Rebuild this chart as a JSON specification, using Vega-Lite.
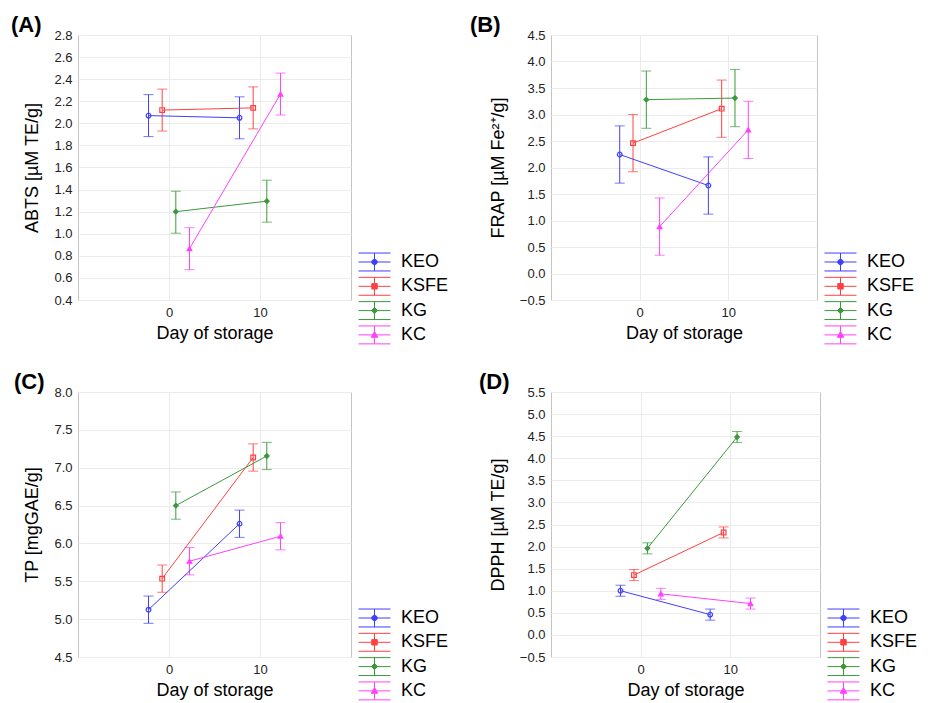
{
  "$schema": "https://vega.github.io/schema/vega-lite/v6.json",
  "background": "white",
  "padding": {"left": 10, "top": 13, "right": 0, "bottom": 0},
  "bounds": "flush",
  "columns": 2,
  "spacing": {"column": 200, "row": 92},
  "resolve": {"scale": {"color": "independent"}, "legend": {"color": "independent"}},
  "config": {
    "font": "Liberation Sans",
    "view": {"stroke": "#c4c4c4", "strokeWidth": 1},
    "axis": {"grid": true, "gridColor": "#ebebeb", "domain": false, "ticks": false, "labelFontSize": 13, "labelColor": "#222", "titleFontSize": 18, "titleFontWeight": "normal", "titleColor": "#000", "labelPadding": 6, "labelFont": "Liberation Sans", "titleFont": "Liberation Sans", "labelOverlap": false},
    "axisY": {"titlePadding": 12},
    "axisX": {"titlePadding": 5},
    "title": {"fontSize": 22, "fontWeight": "bold", "anchor": "start", "frame": "group", "color": "#000", "font": "Liberation Sans", "offset": -8},
    "legend": {"orient": "none", "title": null, "padding": 0, "labelFontSize": 18, "labelFont": "Liberation Sans", "labelColor": "#000", "labelOffset": 10, "symbolSize": 1024}
  },
  "datasets": {
    "abts": [
      {"series": "KEO", "day": 0, "x": -2.25, "y": 2.07, "lo": 1.88, "hi": 2.26},
      {"series": "KEO", "day": 10, "x": 7.75, "y": 2.05, "lo": 1.86, "hi": 2.24},
      {"series": "KSFE", "day": 0, "x": -0.75, "y": 2.12, "lo": 1.93, "hi": 2.31},
      {"series": "KSFE", "day": 10, "x": 9.25, "y": 2.14, "lo": 1.95, "hi": 2.33},
      {"series": "KG", "day": 0, "x": 0.75, "y": 1.2, "lo": 1.005, "hi": 1.385},
      {"series": "KG", "day": 10, "x": 10.75, "y": 1.295, "lo": 1.105, "hi": 1.485},
      {"series": "KC", "day": 0, "x": 2.25, "y": 0.865, "lo": 0.675, "hi": 1.055},
      {"series": "KC", "day": 10, "x": 12.25, "y": 2.265, "lo": 2.075, "hi": 2.455}
    ],
    "frap": [
      {"series": "KEO", "day": 0, "x": -2.25, "y": 2.245, "lo": 1.705, "hi": 2.785},
      {"series": "KEO", "day": 10, "x": 7.75, "y": 1.66, "lo": 1.12, "hi": 2.2},
      {"series": "KSFE", "day": 0, "x": -0.75, "y": 2.46, "lo": 1.92, "hi": 3.0},
      {"series": "KSFE", "day": 10, "x": 9.25, "y": 3.11, "lo": 2.57, "hi": 3.65},
      {"series": "KG", "day": 0, "x": 0.75, "y": 3.28, "lo": 2.74, "hi": 3.82},
      {"series": "KG", "day": 10, "x": 10.75, "y": 3.31, "lo": 2.77, "hi": 3.85},
      {"series": "KC", "day": 0, "x": 2.25, "y": 0.885, "lo": 0.345, "hi": 1.425},
      {"series": "KC", "day": 10, "x": 12.25, "y": 2.71, "lo": 2.17, "hi": 3.25}
    ],
    "tp": [
      {"series": "KEO", "day": 0, "x": -2.25, "y": 5.125, "lo": 4.945, "hi": 5.305},
      {"series": "KEO", "day": 10, "x": 7.75, "y": 6.26, "lo": 6.08, "hi": 6.44},
      {"series": "KSFE", "day": 0, "x": -0.75, "y": 5.535, "lo": 5.355, "hi": 5.715},
      {"series": "KSFE", "day": 10, "x": 9.25, "y": 7.135, "lo": 6.955, "hi": 7.315},
      {"series": "KG", "day": 0, "x": 0.75, "y": 6.5, "lo": 6.32, "hi": 6.68},
      {"series": "KG", "day": 10, "x": 10.75, "y": 7.155, "lo": 6.975, "hi": 7.335},
      {"series": "KC", "day": 0, "x": 2.25, "y": 5.765, "lo": 5.585, "hi": 5.945},
      {"series": "KC", "day": 10, "x": 12.25, "y": 6.095, "lo": 5.915, "hi": 6.275}
    ],
    "dpph": [
      {"series": "KEO", "day": 0, "x": -2.25, "y": 1.0, "lo": 0.875, "hi": 1.125},
      {"series": "KEO", "day": 10, "x": 7.75, "y": 0.46, "lo": 0.335, "hi": 0.585},
      {"series": "KSFE", "day": 0, "x": -0.75, "y": 1.355, "lo": 1.23, "hi": 1.48},
      {"series": "KSFE", "day": 10, "x": 9.25, "y": 2.32, "lo": 2.195, "hi": 2.445},
      {"series": "KG", "day": 0, "x": 0.75, "y": 1.96, "lo": 1.835, "hi": 2.085},
      {"series": "KG", "day": 10, "x": 10.75, "y": 4.48, "lo": 4.355, "hi": 4.605},
      {"series": "KC", "day": 0, "x": 2.25, "y": 0.93, "lo": 0.805, "hi": 1.055},
      {"series": "KC", "day": 10, "x": 12.25, "y": 0.71, "lo": 0.585, "hi": 0.835}
    ]
  },
  "concat": [
    {
      "title": {"text": "(A)", "dx": -67},
      "width": 273, "height": 265,
      "data": {"name": "abts"},
      "encoding": {
        "x": {"field": "x", "type": "quantitative", "scale": {"domain": [-10, 20], "nice": false}, "axis": {"values": [0, 10], "title": "Day of storage"}},
        "color": {"field": "series", "type": "nominal", "scale": {"domain": ["KEO", "KSFE", "KG", "KC"], "range": ["#3f3fff", "#ff4040", "#3a9a3a", "#ff40ff"]},
          "legend": {"legendX": 280, "legendY": 215, "clipHeight": 24, "rowPadding": 0.3, "encode": {"symbols": {"update": {
            "shape": {"signal": "datum.value === 'KEO' ? 'M-1,0H1M0,-0.56V0.56M-1,-0.56H1M-1,0.56H1M-0.17,0A0.17,0.17 0 1,0 0.17,0A0.17,0.17 0 1,0 -0.17,0Z' : datum.value === 'KSFE' ? 'M-1,0H1M0,-0.56V0.56M-1,-0.56H1M-1,0.56H1M-0.17,-0.17H0.17V0.17H-0.17Z' : datum.value === 'KG' ? 'M-1,0H1M0,-0.56V0.56M-1,-0.56H1M-1,0.56H1M0,-0.19L0.19,0L0,0.19L-0.19,0Z' : 'M-1,0H1M0,-0.56V0.56M-1,-0.56H1M-1,0.56H1M0,-0.21L0.2,0.15H-0.2Z'"},
            "stroke": {"signal": "datum.value === 'KEO' ? '#3f3fff' : datum.value === 'KSFE' ? '#ff4040' : datum.value === 'KG' ? '#3a9a3a' : '#ff40ff'"},
            "fill": {"signal": "datum.value === 'KG' ? '#3a9a3a' : datum.value === 'KC' ? '#ff40ff' : 'transparent'"},
            "size": {"value": 1024}, "strokeWidth": {"value": 1}, "opacity": {"value": 1}}}}}}
      },
      "layer": [
        {"mark": {"type": "rule", "strokeWidth": 1}, "encoding": {"y": {"field": "lo", "type": "quantitative", "scale": {"domain": [0.4, 2.8], "nice": false, "zero": false}, "axis": {"values": [0.4, 0.6, 0.8, 1.0, 1.2, 1.4, 1.6, 1.8, 2.0, 2.2, 2.4, 2.6, 2.8], "format": ".1f", "title": "ABTS [µM TE/g]"}}, "y2": {"field": "hi"}}},
        {"mark": {"type": "tick", "orient": "horizontal", "size": 10, "thickness": 1}, "encoding": {"y": {"field": "lo", "type": "quantitative", "axis": {"values": [0.4, 0.6, 0.8, 1.0, 1.2, 1.4, 1.6, 1.8, 2.0, 2.2, 2.4, 2.6, 2.8], "format": ".1f", "title": "ABTS [µM TE/g]"}}}},
        {"mark": {"type": "tick", "orient": "horizontal", "size": 10, "thickness": 1}, "encoding": {"y": {"field": "hi", "type": "quantitative", "axis": {"values": [0.4, 0.6, 0.8, 1.0, 1.2, 1.4, 1.6, 1.8, 2.0, 2.2, 2.4, 2.6, 2.8], "format": ".1f", "title": "ABTS [µM TE/g]"}}}},
        {"mark": {"type": "line", "strokeWidth": 1}, "encoding": {"y": {"field": "y", "type": "quantitative", "axis": {"values": [0.4, 0.6, 0.8, 1.0, 1.2, 1.4, 1.6, 1.8, 2.0, 2.2, 2.4, 2.6, 2.8], "format": ".1f", "title": "ABTS [µM TE/g]"}}}},
        {"mark": {"type": "point", "size": 22, "strokeWidth": 1.2, "opacity": 1}, "encoding": {"y": {"field": "y", "type": "quantitative", "axis": {"values": [0.4, 0.6, 0.8, 1.0, 1.2, 1.4, 1.6, 1.8, 2.0, 2.2, 2.4, 2.6, 2.8], "format": ".1f", "title": "ABTS [µM TE/g]"}},
          "shape": {"field": "series", "type": "nominal", "scale": {"domain": ["KEO", "KSFE", "KG", "KC"], "range": ["circle", "square", "diamond", "triangle-up"]}, "legend": null},
          "fill": {"field": "series", "type": "nominal", "scale": {"domain": ["KEO", "KSFE", "KG", "KC"], "range": ["transparent", "transparent", "#3a9a3a", "#ff40ff"]}, "legend": null}}}
      ]
    },
    {
      "title": {"text": "(B)", "dx": -81},
      "width": 266, "height": 265,
      "data": {"name": "frap"},
      "encoding": {
        "x": {"field": "x", "type": "quantitative", "scale": {"domain": [-10, 20], "nice": false}, "axis": {"values": [0, 10], "title": "Day of storage"}},
        "color": {"field": "series", "type": "nominal", "scale": {"domain": ["KEO", "KSFE", "KG", "KC"], "range": ["#3f3fff", "#ff4040", "#3a9a3a", "#ff40ff"]},
          "legend": {"legendX": 273, "legendY": 215, "clipHeight": 24, "rowPadding": 0.3, "encode": {"symbols": {"update": {
            "shape": {"signal": "datum.value === 'KEO' ? 'M-1,0H1M0,-0.56V0.56M-1,-0.56H1M-1,0.56H1M-0.17,0A0.17,0.17 0 1,0 0.17,0A0.17,0.17 0 1,0 -0.17,0Z' : datum.value === 'KSFE' ? 'M-1,0H1M0,-0.56V0.56M-1,-0.56H1M-1,0.56H1M-0.17,-0.17H0.17V0.17H-0.17Z' : datum.value === 'KG' ? 'M-1,0H1M0,-0.56V0.56M-1,-0.56H1M-1,0.56H1M0,-0.19L0.19,0L0,0.19L-0.19,0Z' : 'M-1,0H1M0,-0.56V0.56M-1,-0.56H1M-1,0.56H1M0,-0.21L0.2,0.15H-0.2Z'"},
            "stroke": {"signal": "datum.value === 'KEO' ? '#3f3fff' : datum.value === 'KSFE' ? '#ff4040' : datum.value === 'KG' ? '#3a9a3a' : '#ff40ff'"},
            "fill": {"signal": "datum.value === 'KG' ? '#3a9a3a' : datum.value === 'KC' ? '#ff40ff' : 'transparent'"},
            "size": {"value": 1024}, "strokeWidth": {"value": 1}, "opacity": {"value": 1}}}}}}
      },
      "layer": [
        {"mark": {"type": "rule", "strokeWidth": 1}, "encoding": {"y": {"field": "lo", "type": "quantitative", "scale": {"domain": [-0.5, 4.5], "nice": false, "zero": false}, "axis": {"values": [-0.5, 0, 0.5, 1.0, 1.5, 2.0, 2.5, 3.0, 3.5, 4.0, 4.5], "format": ".1f", "title": "FRAP [µM Fe²⁺/g]"}}, "y2": {"field": "hi"}}},
        {"mark": {"type": "tick", "orient": "horizontal", "size": 10, "thickness": 1}, "encoding": {"y": {"field": "lo", "type": "quantitative", "axis": {"values": [-0.5, 0, 0.5, 1.0, 1.5, 2.0, 2.5, 3.0, 3.5, 4.0, 4.5], "format": ".1f", "title": "FRAP [µM Fe²⁺/g]"}}}},
        {"mark": {"type": "tick", "orient": "horizontal", "size": 10, "thickness": 1}, "encoding": {"y": {"field": "hi", "type": "quantitative", "axis": {"values": [-0.5, 0, 0.5, 1.0, 1.5, 2.0, 2.5, 3.0, 3.5, 4.0, 4.5], "format": ".1f", "title": "FRAP [µM Fe²⁺/g]"}}}},
        {"mark": {"type": "line", "strokeWidth": 1}, "encoding": {"y": {"field": "y", "type": "quantitative", "axis": {"values": [-0.5, 0, 0.5, 1.0, 1.5, 2.0, 2.5, 3.0, 3.5, 4.0, 4.5], "format": ".1f", "title": "FRAP [µM Fe²⁺/g]"}}}},
        {"mark": {"type": "point", "size": 22, "strokeWidth": 1.2, "opacity": 1}, "encoding": {"y": {"field": "y", "type": "quantitative", "axis": {"values": [-0.5, 0, 0.5, 1.0, 1.5, 2.0, 2.5, 3.0, 3.5, 4.0, 4.5], "format": ".1f", "title": "FRAP [µM Fe²⁺/g]"}},
          "shape": {"field": "series", "type": "nominal", "scale": {"domain": ["KEO", "KSFE", "KG", "KC"], "range": ["circle", "square", "diamond", "triangle-up"]}, "legend": null},
          "fill": {"field": "series", "type": "nominal", "scale": {"domain": ["KEO", "KSFE", "KG", "KC"], "range": ["transparent", "transparent", "#3a9a3a", "#ff40ff"]}, "legend": null}}}
      ]
    },
    {
      "title": {"text": "(C)", "dx": -64},
      "width": 273, "height": 265,
      "data": {"name": "tp"},
      "encoding": {
        "x": {"field": "x", "type": "quantitative", "scale": {"domain": [-10, 20], "nice": false}, "axis": {"values": [0, 10], "title": "Day of storage"}},
        "color": {"field": "series", "type": "nominal", "scale": {"domain": ["KEO", "KSFE", "KG", "KC"], "range": ["#3f3fff", "#ff4040", "#3a9a3a", "#ff40ff"]},
          "legend": {"legendX": 280, "legendY": 214, "clipHeight": 24, "rowPadding": 0.3, "encode": {"symbols": {"update": {
            "shape": {"signal": "datum.value === 'KEO' ? 'M-1,0H1M0,-0.56V0.56M-1,-0.56H1M-1,0.56H1M-0.17,0A0.17,0.17 0 1,0 0.17,0A0.17,0.17 0 1,0 -0.17,0Z' : datum.value === 'KSFE' ? 'M-1,0H1M0,-0.56V0.56M-1,-0.56H1M-1,0.56H1M-0.17,-0.17H0.17V0.17H-0.17Z' : datum.value === 'KG' ? 'M-1,0H1M0,-0.56V0.56M-1,-0.56H1M-1,0.56H1M0,-0.19L0.19,0L0,0.19L-0.19,0Z' : 'M-1,0H1M0,-0.56V0.56M-1,-0.56H1M-1,0.56H1M0,-0.21L0.2,0.15H-0.2Z'"},
            "stroke": {"signal": "datum.value === 'KEO' ? '#3f3fff' : datum.value === 'KSFE' ? '#ff4040' : datum.value === 'KG' ? '#3a9a3a' : '#ff40ff'"},
            "fill": {"signal": "datum.value === 'KG' ? '#3a9a3a' : datum.value === 'KC' ? '#ff40ff' : 'transparent'"},
            "size": {"value": 1024}, "strokeWidth": {"value": 1}, "opacity": {"value": 1}}}}}}
      },
      "layer": [
        {"mark": {"type": "rule", "strokeWidth": 1}, "encoding": {"y": {"field": "lo", "type": "quantitative", "scale": {"domain": [4.5, 8.0], "nice": false, "zero": false}, "axis": {"values": [4.5, 5.0, 5.5, 6.0, 6.5, 7.0, 7.5, 8.0], "format": ".1f", "title": "TP [mgGAE/g]"}}, "y2": {"field": "hi"}}},
        {"mark": {"type": "tick", "orient": "horizontal", "size": 10, "thickness": 1}, "encoding": {"y": {"field": "lo", "type": "quantitative", "axis": {"values": [4.5, 5.0, 5.5, 6.0, 6.5, 7.0, 7.5, 8.0], "format": ".1f", "title": "TP [mgGAE/g]"}}}},
        {"mark": {"type": "tick", "orient": "horizontal", "size": 10, "thickness": 1}, "encoding": {"y": {"field": "hi", "type": "quantitative", "axis": {"values": [4.5, 5.0, 5.5, 6.0, 6.5, 7.0, 7.5, 8.0], "format": ".1f", "title": "TP [mgGAE/g]"}}}},
        {"mark": {"type": "line", "strokeWidth": 1}, "encoding": {"y": {"field": "y", "type": "quantitative", "axis": {"values": [4.5, 5.0, 5.5, 6.0, 6.5, 7.0, 7.5, 8.0], "format": ".1f", "title": "TP [mgGAE/g]"}}}},
        {"mark": {"type": "point", "size": 22, "strokeWidth": 1.2, "opacity": 1}, "encoding": {"y": {"field": "y", "type": "quantitative", "axis": {"values": [4.5, 5.0, 5.5, 6.0, 6.5, 7.0, 7.5, 8.0], "format": ".1f", "title": "TP [mgGAE/g]"}},
          "shape": {"field": "series", "type": "nominal", "scale": {"domain": ["KEO", "KSFE", "KG", "KC"], "range": ["circle", "square", "diamond", "triangle-up"]}, "legend": null},
          "fill": {"field": "series", "type": "nominal", "scale": {"domain": ["KEO", "KSFE", "KG", "KC"], "range": ["transparent", "transparent", "#3a9a3a", "#ff40ff"]}, "legend": null}}}
      ]
    },
    {
      "title": {"text": "(D)", "dx": -72},
      "width": 269, "height": 265,
      "data": {"name": "dpph"},
      "encoding": {
        "x": {"field": "x", "type": "quantitative", "scale": {"domain": [-10, 20], "nice": false}, "axis": {"values": [0, 10], "title": "Day of storage"}},
        "color": {"field": "series", "type": "nominal", "scale": {"domain": ["KEO", "KSFE", "KG", "KC"], "range": ["#3f3fff", "#ff4040", "#3a9a3a", "#ff40ff"]},
          "legend": {"legendX": 276, "legendY": 214, "clipHeight": 24, "rowPadding": 0.3, "encode": {"symbols": {"update": {
            "shape": {"signal": "datum.value === 'KEO' ? 'M-1,0H1M0,-0.56V0.56M-1,-0.56H1M-1,0.56H1M-0.17,0A0.17,0.17 0 1,0 0.17,0A0.17,0.17 0 1,0 -0.17,0Z' : datum.value === 'KSFE' ? 'M-1,0H1M0,-0.56V0.56M-1,-0.56H1M-1,0.56H1M-0.17,-0.17H0.17V0.17H-0.17Z' : datum.value === 'KG' ? 'M-1,0H1M0,-0.56V0.56M-1,-0.56H1M-1,0.56H1M0,-0.19L0.19,0L0,0.19L-0.19,0Z' : 'M-1,0H1M0,-0.56V0.56M-1,-0.56H1M-1,0.56H1M0,-0.21L0.2,0.15H-0.2Z'"},
            "stroke": {"signal": "datum.value === 'KEO' ? '#3f3fff' : datum.value === 'KSFE' ? '#ff4040' : datum.value === 'KG' ? '#3a9a3a' : '#ff40ff'"},
            "fill": {"signal": "datum.value === 'KG' ? '#3a9a3a' : datum.value === 'KC' ? '#ff40ff' : 'transparent'"},
            "size": {"value": 1024}, "strokeWidth": {"value": 1}, "opacity": {"value": 1}}}}}}
      },
      "layer": [
        {"mark": {"type": "rule", "strokeWidth": 1}, "encoding": {"y": {"field": "lo", "type": "quantitative", "scale": {"domain": [-0.5, 5.5], "nice": false, "zero": false}, "axis": {"values": [-0.5, 0, 0.5, 1.0, 1.5, 2.0, 2.5, 3.0, 3.5, 4.0, 4.5, 5.0, 5.5], "format": ".1f", "title": "DPPH [µM TE/g]"}}, "y2": {"field": "hi"}}},
        {"mark": {"type": "tick", "orient": "horizontal", "size": 10, "thickness": 1}, "encoding": {"y": {"field": "lo", "type": "quantitative", "axis": {"values": [-0.5, 0, 0.5, 1.0, 1.5, 2.0, 2.5, 3.0, 3.5, 4.0, 4.5, 5.0, 5.5], "format": ".1f", "title": "DPPH [µM TE/g]"}}}},
        {"mark": {"type": "tick", "orient": "horizontal", "size": 10, "thickness": 1}, "encoding": {"y": {"field": "hi", "type": "quantitative", "axis": {"values": [-0.5, 0, 0.5, 1.0, 1.5, 2.0, 2.5, 3.0, 3.5, 4.0, 4.5, 5.0, 5.5], "format": ".1f", "title": "DPPH [µM TE/g]"}}}},
        {"mark": {"type": "line", "strokeWidth": 1}, "encoding": {"y": {"field": "y", "type": "quantitative", "axis": {"values": [-0.5, 0, 0.5, 1.0, 1.5, 2.0, 2.5, 3.0, 3.5, 4.0, 4.5, 5.0, 5.5], "format": ".1f", "title": "DPPH [µM TE/g]"}}}},
        {"mark": {"type": "point", "size": 22, "strokeWidth": 1.2, "opacity": 1}, "encoding": {"y": {"field": "y", "type": "quantitative", "axis": {"values": [-0.5, 0, 0.5, 1.0, 1.5, 2.0, 2.5, 3.0, 3.5, 4.0, 4.5, 5.0, 5.5], "format": ".1f", "title": "DPPH [µM TE/g]"}},
          "shape": {"field": "series", "type": "nominal", "scale": {"domain": ["KEO", "KSFE", "KG", "KC"], "range": ["circle", "square", "diamond", "triangle-up"]}, "legend": null},
          "fill": {"field": "series", "type": "nominal", "scale": {"domain": ["KEO", "KSFE", "KG", "KC"], "range": ["transparent", "transparent", "#3a9a3a", "#ff40ff"]}, "legend": null}}}
      ]
    }
  ]
}
